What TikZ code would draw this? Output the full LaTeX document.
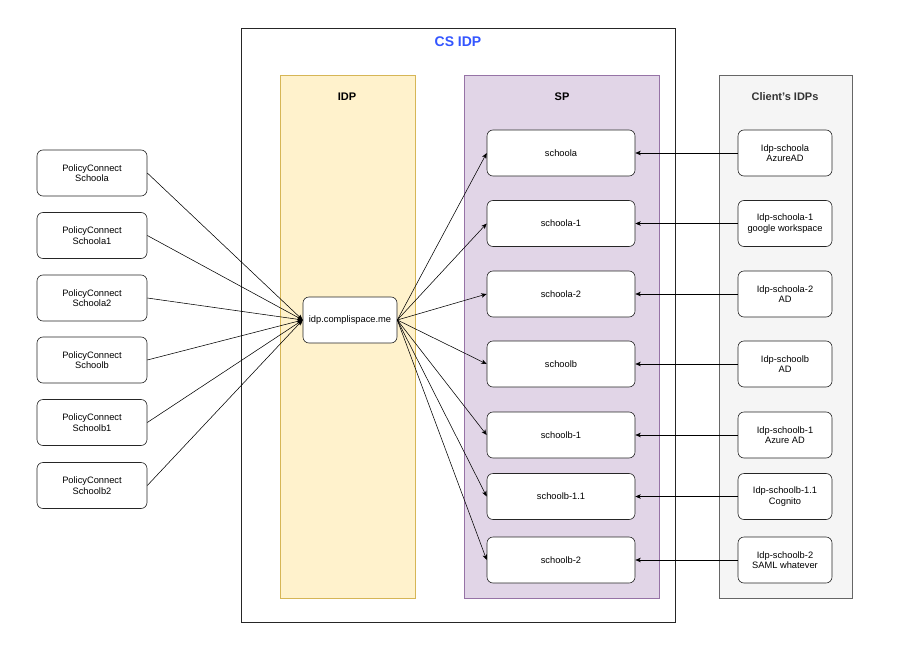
\documentclass[tikz,border=0pt]{standalone}
\usepackage{fontspec}
\setmainfont{Liberation Sans}
\usetikzlibrary{arrows.meta}
\definecolor{idpfill}{HTML}{FFF2CC}
\definecolor{idpdraw}{HTML}{D6B656}
\definecolor{spfill}{HTML}{E1D5E7}
\definecolor{spdraw}{HTML}{9673A6}
\definecolor{clfill}{HTML}{F5F5F5}
\definecolor{cldraw}{HTML}{666666}
\definecolor{titleblue}{HTML}{3355FF}
\begin{document}
\begin{tikzpicture}[x=1pt,y=-1pt,
  txt/.style={font=\fontsize{9.3}{10.5}\selectfont, align=center},
  rbox/.style={txt, draw=black!85, line width=0.6pt, rounded corners=6pt, fill=white, minimum height=46pt, inner sep=1pt},
  leftbox/.style={rbox, minimum width=110pt},
  spbox/.style={rbox, minimum width=148pt},
  clbox/.style={rbox, minimum width=94pt},
  lbl/.style={font=\fontsize{11}{13}\selectfont\bfseries},
  conn/.style={draw=black, line width=0.55pt, -{Stealth[length=5.5pt,width=4.5pt,inset=1.5pt]}},
]
\useasboundingbox (0,0) rectangle (915,658);
% containers
\draw[line width=0.75pt, draw=black!85, fill=white] (241,28) rectangle (675,622);
\draw[line width=0.6pt, draw=idpdraw, fill=idpfill] (280,75) rectangle (415,598);
\draw[line width=0.6pt, draw=spdraw, fill=spfill] (464,75) rectangle (659,598);
\draw[line width=0.6pt, draw=cldraw, fill=clfill] (719,75) rectangle (852,598);
\node[font=\fontsize{14}{16}\selectfont\bfseries, text=titleblue] (title) at (458,42) {CS IDP};
\node[lbl] (idplbl) at (347,97) {IDP};
\node[lbl] (splbl) at (562,97) {SP};
\node[lbl, text=black!80] (cllbl) at (785,97) {Client's IDPs};
% central node
\node[rbox, minimum width=94pt] (idp) at (350,320) {idp.complispace.me};
% left nodes
\node[leftbox] (pa) at (92,173) {PolicyConnect\\Schoola};
\node[leftbox] (pa1) at (92,235.5) {PolicyConnect\\Schoola1};
\node[leftbox] (pa2) at (92,298) {PolicyConnect\\Schoola2};
\node[leftbox] (pb) at (92,360) {PolicyConnect\\Schoolb};
\node[leftbox] (pb1) at (92,422.5) {PolicyConnect\\Schoolb1};
\node[leftbox] (pb2) at (92,485.5) {PolicyConnect\\Schoolb2};
% SP nodes
\node[spbox] (sa) at (561,153) {schoola};
\node[spbox] (sa1) at (561,223.5) {schoola-1};
\node[spbox] (sa2) at (561,294) {schoola-2};
\node[spbox] (sb) at (561,364) {schoolb};
\node[spbox] (sb1) at (561,435) {schoolb-1};
\node[spbox] (sb11) at (561,496.5) {schoolb-1.1};
\node[spbox] (sb2) at (561,560) {schoolb-2};
% client nodes
\node[clbox] (ca) at (785,153) {Idp-schoola\\AzureAD};
\node[clbox] (ca1) at (785,223.5) {Idp-schoola-1\\google workspace};
\node[clbox] (ca2) at (785,294) {Idp-schoola-2\\AD};
\node[clbox] (cb) at (785,364) {Idp-schoolb\\AD};
\node[clbox] (cb1) at (785,435) {Idp-schoolb-1\\Azure AD};
\node[clbox] (cb11) at (785,496.5) {Idp-schoolb-1.1\\Cognito};
\node[clbox] (cb2) at (785,560) {Idp-schoolb-2\\SAML whatever};
% connectors
\foreach \n in {pa,pa1,pa2,pb,pb1,pb2} \draw[conn] (\n.east) -- (idp.west);
\foreach \n in {sa,sa1,sa2,sb,sb1,sb11,sb2} \draw[conn] (idp.east) -- (\n.west);
\draw[conn] (ca.west) -- (sa.east);
\draw[conn] (ca1.west) -- (sa1.east);
\draw[conn] (ca2.west) -- (sa2.east);
\draw[conn] (cb.west) -- (sb.east);
\draw[conn] (cb1.west) -- (sb1.east);
\draw[conn] (cb11.west) -- (sb11.east);
\draw[conn] (cb2.west) -- (sb2.east);
\end{tikzpicture}
\end{document}
